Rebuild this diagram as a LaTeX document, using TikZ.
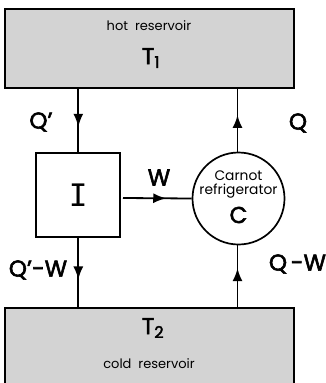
\documentclass[tikz,border=0pt]{standalone}
\usepackage{fontspec}
\setmainfont{Poppins}
\newfontfamily\lblfont{Poppins}[FakeBold=2.5]
\newfontfamily\monofont{DejaVu Sans Mono}
\usetikzlibrary{arrows.meta,decorations.markings}
\definecolor{resgray}{RGB}{211,211,211}
\tikzset{
  res/.style={draw=black, line width=1.5pt, fill=resgray},
  flowat/.style={line width=1.8pt, postaction={decorate}, decoration={markings, mark=at position #1 with {\arrow{Latex[length=13pt,width=10pt]}}}},
  lbl/.style={font=\lblfont\fontsize{23}{23}\selectfont, inner sep=0pt},
  small/.style={font=\fontsize{13}{13}\selectfont, align=center, inner sep=0pt},
}
\begin{document}
\begin{tikzpicture}[x=1pt,y=-1pt]
\useasboundingbox (0,0) rectangle (325,383);
\fill[white] (0,0) rectangle (325,383);
\draw[res] (5,9) rectangle (294,88);
\draw[res] (5,308) rectangle (294,392);
\node[small] (hot) at (149,26) {hot\ \ reservoir};
\node[lbl] (t1) at (151,58) {T\textsubscript{1}};
\node[lbl] (t2) at (153,328) {T\textsubscript{2}};
\node[small] (cold) at (149,364) {cold\ \ reservoir};
\node[draw, line width=1.7pt, minimum width=84pt, minimum height=84pt, inner sep=0pt, font=\monofont\fontsize{31}{31}\selectfont] (I) at (78.3,194.7) {I};
\node[draw, circle, line width=1.7pt, minimum size=92pt, inner sep=0pt] (C) at (238.5,198.5) {};
\node[small, font=\fontsize{13.8}{14}\selectfont] (ctext) at (238.5,184) {Carnot\\refrigerator};
\node[lbl] (cl) at (238.5,215) {C};
\coordinate (hotL) at (78.3,88);
\coordinate (hotR) at (237.5,88);
\coordinate (coldL) at (78.3,308);
\coordinate (coldR) at (237.5,308);
\coordinate (Itop) at (78.3,152.7);
\coordinate (Ibot) at (78.3,236.7);
\coordinate (Ctop) at (237.5,152.2);
\coordinate (Cbot) at (237.5,244.8);
\draw[flowat=0.6] (hotL) -- (Itop);
\draw[flowat=0.6] (Ibot) -- (coldL);
\draw[flowat=0.58] (Ctop) -- (hotR);
\draw[flowat=0.63] (coldR) -- (Cbot);
\coordinate (Ie) at (123,198);
\draw[flowat=0.63] (Ie) -- (C.west);
\node[lbl] (lq1) at (41,122) {Q\textquoteright};
\node[lbl] (lq) at (298,123) {Q};
\node[lbl] (lw) at (159,177.5) {W};
\node[lbl] (lqw1) at (38,270) {Q\textquoteright-W};
\node[lbl] (lqw) at (297.5,264) {Q\,-W};
\end{tikzpicture}
\end{document}
